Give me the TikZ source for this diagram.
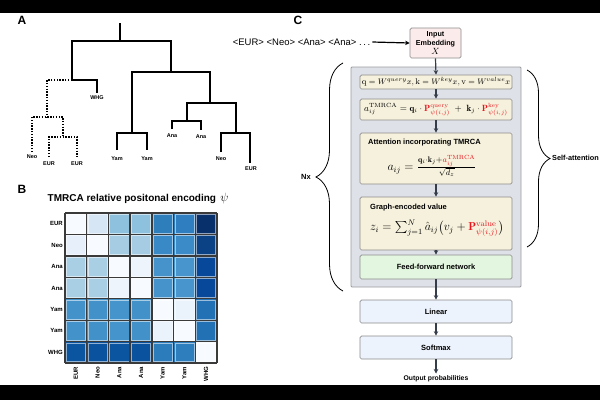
\documentclass[tikz,border=0pt]{standalone}
\usepackage{amsmath}
\usepackage{fontspec}
\setsansfont{Liberation Sans}
\usetikzlibrary{arrows.meta,decorations.pathreplacing}
\definecolor{cream}{HTML}{F6F1DC}
\definecolor{boxline}{HTML}{8C8C8C}
\definecolor{contfill}{HTML}{DEE1E7}
\definecolor{contline}{HTML}{9A9CA0}
\definecolor{pinkfill}{HTML}{FBECEB}
\definecolor{greenfill}{HTML}{E3F6DF}
\definecolor{bluefill}{HTML}{EDF3FC}
\definecolor{arrowcol}{HTML}{353D4A}
\definecolor{gridcol}{HTML}{3A3A3A}
\definecolor{redP}{HTML}{E8141C}
\begin{document}
\begin{tikzpicture}[x=1pt,y=-1pt,
  panel/.style={font=\sffamily\bfseries\fontsize{12}{14}\selectfont, inner sep=0},
  leaf/.style={font=\sffamily\bfseries\fontsize{5.5}{6}\selectfont, inner sep=0},
  hlbl/.style={font=\sffamily\bfseries\fontsize{6}{7}\selectfont, inner sep=0},
  tree/.style={line width=1.5pt},
  dtree/.style={line width=1.5pt, dash pattern=on 1.4pt off 1.4pt},
  box/.style={draw=boxline, line width=0.7pt, fill=cream, rounded corners=1.5pt, minimum width=152pt, inner sep=0, align=center},
  btitle/.style={font=\sffamily\bfseries\fontsize{7.5}{9}\selectfont, inner sep=0, anchor=west},
  btext/.style={font=\sffamily\bfseries\fontsize{7.5}{9}\selectfont},
  arr/.style={draw=arrowcol, line width=1.2pt, -{Stealth[length=4.5pt,width=4.5pt]}},
  brace/.style={draw=black, line width=0.8pt, decorate}
]
\useasboundingbox (0,0) rectangle (600,400);
\fill[white] (0,0) rectangle (600,400);

% ---------------- Panel A : tree ----------------
\node[panel] (labA) at (22,20.5) {A};
\coordinate (root) at (120,23);
\coordinate (rj) at (120,41);
\coordinate (n1) at (72,80);
\coordinate (n2) at (47,117);
\coordinate (n3) at (63,137);
\coordinate (m1) at (171,72);
\coordinate (m2) at (132,133);
\coordinate (m3) at (210,103);
\coordinate (m4) at (187,121);
\coordinate (m5) at (236,133);
\node[leaf] (lWHG) at (97,97.5) {WHG};
\node[leaf] (lNeo1) at (32,157) {Neo};
\node[leaf] (lEUR1) at (49,164) {EUR};
\node[leaf] (lEUR2) at (77,164) {EUR};
\node[leaf] (lYam1) at (117,159) {Yam};
\node[leaf] (lYam2) at (147,159) {Yam};
\node[leaf] (lAna1) at (172,136) {Ana};
\node[leaf] (lAna2) at (201,136.5) {Ana};
\node[leaf] (lNeo2) at (221,159) {Neo};
\node[leaf] (lEUR3) at (251,169) {EUR};
\draw[tree] (root) -- (rj);
\draw[tree] (n1) |- (rj) -| (m1);
\draw[tree] (n1) -- (97,80) -- (97,93);
\draw[dtree] (n1) -- (47,80) -- (n2);
\draw[dtree] (32,152) -- (32,117) -- (63,117) -- (n3);
\draw[dtree] (49,157) -- (49,137) -- (77,137) -- (77,157);
\draw[tree] (m2) |- (m1) -| (m3);
\draw[tree] (117,150) -- (117,133) -- (147,133) -- (147,150);
\draw[tree] (m4) |- (m3) -| (m5);
\draw[tree] (172,129) -- (172,121) -- (201,121) -- (201,130);
\draw[tree] (221,152) -- (221,133) -- (250,133) -- (250,163);

% ---------------- Panel B : heatmap ----------------
\node[panel] (labB) at (22,189) {B};
\node[font=\sffamily\bfseries\fontsize{10}{12}\selectfont, inner sep=0, anchor=west] (titleB) at (47.5,198) {TMRCA relative positonal encoding \,{\fontsize{13}{14}\selectfont$\psi$}};
\def\cw{21.714}
\def\ch{21.43}
\foreach \rowcols [count=\i] in {
  {F7FBFF,D6E6F4,8DC1DD,8DC1DD,2E7EBC,2F7FC0,08306B},
  {E7F0FA,F7FBFF,A5CCE3,A5CCE3,3989C6,3B8BC8,0B4285},
  {A9CFE5,A9CFE5,F7FBFF,EDF4FC,4593CA,4795CC,08489A},
  {A9CFE5,A9CFE5,EDF4FC,F7FBFF,4593CA,4795CC,08489A},
  {4393CA,4391C9,4594CB,4391C9,F7FBFF,EAF2FB,2271B5},
  {4393CA,4391C9,4594CB,4391C9,EAF2FB,F7FBFF,2271B5},
  {0B55A0,0B529E,0B55A0,0B529E,2C7BBB,2E7EBD,F7FBFF}} {
  \foreach \c [count=\j] in \rowcols {
    \edef\tmp{\noexpand\definecolor{hc}{HTML}{\c}}\tmp
    \fill[hc] ({65+(\j-1)*\cw},{213+(\i-1)*\ch}) rectangle ++(\cw,\ch);
    \draw[white, draw opacity=0.55, line width=0.6pt] ({65+(\j-1)*\cw+1.3},{213+(\i-1)*\ch+1.3}) rectangle ++({\cw-2.6},{\ch-2.6});
  }
}
\foreach \k in {0,...,7} {
  \draw[gridcol, line width=1.3pt] ({65+\k*\cw},213) -- ({65+\k*\cw},363);
  \draw[gridcol, line width=1.3pt] (65,{213+\k*\ch}) -- (217,{213+\k*\ch});
}
\foreach \l [count=\i] in {EUR,Neo,Ana,Ana,Yam,Yam,WHG} {
  \node[hlbl, anchor=east] (row\i) at (63,{213+(\i-0.5)*\ch}) {\l};
  \node[hlbl, rotate=90, anchor=east] (col\i) at ({65+(\i-0.5)*\cw},366.5) {\l};
}

% ---------------- Panel C : architecture ----------------
\node[panel] (labC) at (298,20) {C};
\node[font=\sffamily\fontsize{9.5}{11}\selectfont, inner sep=2pt] (seq) at (301.5,42) {<EUR> <Neo> <Ana> <Ana> .\,.\,.};
\node[box, fill=pinkfill, minimum width=51pt, minimum height=30pt, font=\sffamily\bfseries\fontsize{7.2}{9.5}\selectfont] (inp) at (435.5,43) {Input\\Embedding\\[-1pt]{\normalfont\fontsize{9}{9}\selectfont$X$}};
\draw[draw=black, line width=1.2pt, -{Stealth[length=4.5pt,width=4.5pt]}] (seq.east) -- (inp.west);

\node[draw=contline, line width=0.8pt, fill=contfill, rounded corners=1pt, minimum width=170pt, minimum height=220pt, inner sep=0] (cont) at (436,177) {};

\node[box, minimum height=14pt, font=\fontsize{8.3}{10}\selectfont] (b1) at (436,82)
  {$\mathrm{q}=W^{query}x,\mathrm{k}=W^{key}x,\mathrm{v}=W^{value}x$};
\node[box, minimum height=21pt, font=\fontsize{9}{10}\selectfont] (b2) at (436,109.5)
  {$a_{ij}^{\mathrm{TMRCA}}=\mathbf{q}_i\cdot\textcolor{redP}{\mathbf{P}^{\mathrm{query}}_{\psi(i,j)}}\;+\;\mathbf{k}_j\cdot\textcolor{redP}{\mathbf{P}^{\mathrm{key}}_{\psi(i,j)}}$};
\node[box, minimum height=51pt] (b3) at (436,158.5) {};
\node[btitle] (t3) at (368,143) {Attention incorporating TMRCA};
\node[inner sep=0, font=\fontsize{12}{14}\selectfont] (f3) at (432,166)
  {$a_{ij}=\tfrac{\mathbf{q}_i\cdot\mathbf{k}_j+\textcolor{redP}{a_{ij}^{\mathrm{TMRCA}}}}{\sqrt{d_z}}$};
\node[box, minimum height=53pt] (b4) at (436,223.5) {};
\node[btitle] (t4) at (370,208) {Graph-encoded value};
\node[inner sep=0, font=\fontsize{11.5}{13}\selectfont] (f4) at (437,228)
  {$z_i=\sum_{j=1}^{N}\hat{a}_{ij}\big(v_j+\textcolor{redP}{\mathbf{P}^{\mathrm{value}}_{\psi(i,j)}}\big)$};
\node[box, fill=greenfill, minimum height=24pt, btext] (b5) at (436,267) {Feed-forward network};
\node[box, fill=bluefill, minimum height=23pt, btext] (lin) at (436,311.5) {Linear};
\node[box, fill=bluefill, minimum height=23pt, btext] (soft) at (436,347.5) {Softmax};
\node[font=\sffamily\bfseries\fontsize{6.8}{8}\selectfont, inner sep=1.5pt, anchor=north] (out) at (436,373.5) {Output probabilities};

\draw[arr] (inp.south) -- (b1.north);
\draw[arr] (b1.south) -- (b2.north);
\draw[arr] (b2.south) -- (b3.north);
\draw[arr] (b3.south) -- (b4.north);
\draw[arr] (b4.south) -- (b5.north);
\draw[arr] (b5.south) -- (lin.north);
\draw[arr] (lin.south) -- (soft.north);
\draw[arr] (soft.south) -- (out.north);

% braces
\coordinate (lbB) at (343,291);
\coordinate (lbT) at (343,63);
\coordinate (rbT) at (527,70);
\coordinate (rbB) at (527,247);
\draw[brace, decoration={brace, amplitude=27pt}] (lbB) -- (lbT);
\draw[brace, decoration={brace, amplitude=23pt}] (rbT) -- (rbB);
\node[font=\sffamily\bfseries\fontsize{7.5}{9}\selectfont, inner sep=0] (nx) at (306,177) {Nx};
\node[font=\sffamily\bfseries\fontsize{7.3}{9}\selectfont, inner sep=0, anchor=west] (sa) at (552,158) {Self-attention};

% letterbox bars
\fill[black] (0,0) rectangle (600,12.5);
\fill[black] (0,385) rectangle (600,400);
\end{tikzpicture}
\end{document}
